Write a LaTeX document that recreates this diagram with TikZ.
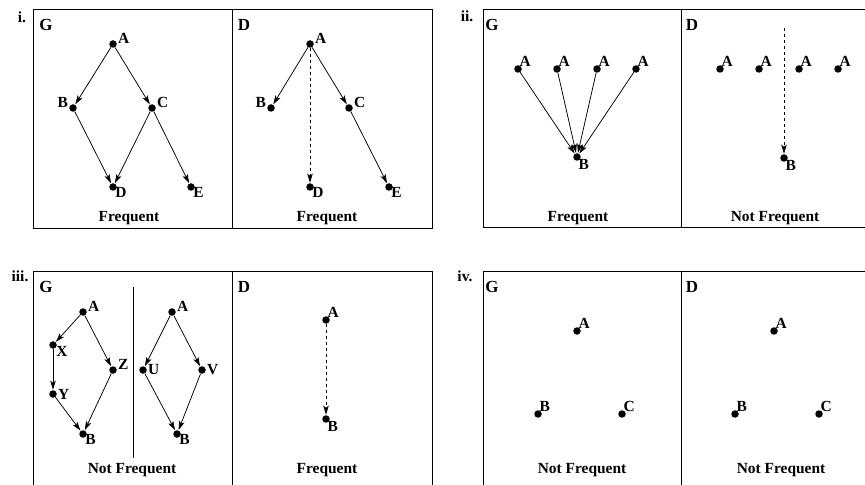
\documentclass[tikz,border=0pt]{standalone}
\usepackage{fontspec}
\setmainfont{Liberation Serif}
\usetikzlibrary{arrows.meta}
\begin{document}
\begin{tikzpicture}[x=1bp,y=-1bp,
  dotnode/.style={circle,fill=black,inner sep=0pt,minimum size=7.5bp},
  lbl/.style={font=\fontsize{15.5}{15.5}\selectfont\bfseries,inner sep=0pt},
  captxt/.style={font=\fontsize{15.5}{16}\selectfont\bfseries,inner sep=0pt},
  boxtitle/.style={font=\fontsize{17}{17}\selectfont\bfseries,inner sep=0pt},
  boxline/.style={line width=0.9bp},
  arr/.style={line width=0.75bp,-{Stealth[length=9bp,width=5.5bp,inset=2bp]},shorten >=0.3bp},
  darr/.style={arr,dash pattern=on 3.5bp off 2.5bp},
  every label/.style={lbl,label distance=1bp}]
\useasboundingbox (0,0) rectangle (865,485);
\clip (0,0) rectangle (865,485);

% ---------- panel i ----------
\node[lbl] (ni) at (22,17) {i.};
\draw[boxline] (33,9) rectangle (232,228);
\draw[boxline] (232,9) rectangle (432,228);
\node[boxtitle] (iG) at (46,25) {G};
\node[boxtitle] (iDl) at (244,25) {D};
\node[captxt] (iGc) at (129,218) {Frequent};
\node[captxt] (iDc) at (327,218) {Frequent};
\node[dotnode,label={[anchor=south west]0:A}] (iA) at (113,44) {};
\node[dotnode,label={[anchor=south east]180:B}] (iB) at (73,108) {};
\node[dotnode,label={[anchor=south west]0:C}] (iC) at (152,108) {};
\node[dotnode,label={[anchor=north west,xshift=-2bp,yshift=2bp]-30:D}] (iD) at (113,187) {};
\node[dotnode,label={[anchor=north west,xshift=-2bp,yshift=2bp]-30:E}] (iE) at (191,187) {};
\draw[arr] (iA) -- (iB);
\draw[arr] (iA) -- (iC);
\draw[arr] (iB) -- (iD);
\draw[arr] (iC) -- (iD);
\draw[arr] (iC) -- (iE);
\node[dotnode,label={[anchor=south west]0:A}] (jA) at (310,44) {};
\node[dotnode,label={[anchor=south east]180:B}] (jB) at (271,108) {};
\node[dotnode,label={[anchor=south west]0:C}] (jC) at (349,108) {};
\node[dotnode,label={[anchor=north west,xshift=-2bp,yshift=2bp]-30:D}] (jD) at (310,187) {};
\node[dotnode,label={[anchor=north west,xshift=-2bp,yshift=2bp]-30:E}] (jE) at (389,187) {};
\draw[arr] (jA) -- (jB);
\draw[arr] (jA) -- (jC);
\draw[arr] (jC) -- (jE);
\draw[darr] (jA) -- (jD);

% ---------- panel ii ----------
\node[lbl] (nii) at (467,16) {ii.};
\draw[boxline] (483,9) rectangle (681,227);
\draw[boxline] (681,9) rectangle (885,227);
\node[boxtitle] (iiG) at (492,25) {G};
\node[boxtitle] (iiDl) at (692,25) {D};
\node[captxt] (iiGc) at (578,218) {Frequent};
\node[captxt] (iiDc) at (775,218) {Not Frequent};
\node[dotnode,label={[anchor=south west,xshift=-2bp,yshift=-1bp]45:A}] (iiA1) at (518,69) {};
\node[dotnode,label={[anchor=south west,xshift=-2bp,yshift=-1bp]45:A}] (iiA2) at (557,69) {};
\node[dotnode,label={[anchor=south west,xshift=-2bp,yshift=-1bp]45:A}] (iiA3) at (597,69) {};
\node[dotnode,label={[anchor=south west,xshift=-2bp,yshift=-1bp]45:A}] (iiA4) at (636,69) {};
\node[dotnode,label={[anchor=north west,xshift=-2bp,yshift=1bp]-45:B}] (iiB) at (577,157) {};
\draw[arr] (iiA1) -- (iiB);
\draw[arr] (iiA2) -- (iiB);
\draw[arr] (iiA3) -- (iiB);
\draw[arr] (iiA4) -- (iiB);
\node[dotnode,label={[anchor=south west,xshift=-2bp,yshift=-1bp]45:A}] (jjA1) at (720,69) {};
\node[dotnode,label={[anchor=south west,xshift=-2bp,yshift=-1bp]45:A}] (jjA2) at (759,69) {};
\node[dotnode,label={[anchor=south west,xshift=-2bp,yshift=-1bp]45:A}] (jjA3) at (799,69) {};
\node[dotnode,label={[anchor=south west,xshift=-2bp,yshift=-1bp]45:A}] (jjA4) at (838,69) {};
\node[dotnode,label={[anchor=north west,xshift=-2bp,yshift=1bp]-45:B}] (jjB) at (784,158) {};
\coordinate (jjtop) at (784,28);
\draw[darr] (jjtop) -- (jjB);

% ---------- panel iii ----------
\node[lbl] (niii) at (20,276) {iii.};
\draw[boxline] (33,271) rectangle (232,495);
\draw[boxline] (232,271) rectangle (432,495);
\node[boxtitle] (iiiG) at (46,287) {G};
\node[boxtitle] (iiiDl) at (244,287) {D};
\node[captxt] (iiiGc) at (132,470) {Not Frequent};
\node[captxt] (iiiDc) at (327,470) {Frequent};
\coordinate (sepT) at (133,287);
\coordinate (sepB) at (133,458);
\draw[line width=0.9bp] (sepT) -- (sepB);
\node[dotnode,label={[anchor=south west]0:A}] (mA) at (83,312) {};
\node[dotnode,label={[anchor=north west,xshift=-1bp,yshift=1bp]-30:X}] (mX) at (53,345) {};
\node[dotnode,label={[anchor=west]0:Y}] (mY) at (53,394) {};
\node[dotnode,label={[anchor=south west]0:Z}] (mZ) at (113,370) {};
\node[dotnode,label={[anchor=north west,xshift=-2bp,yshift=2bp]-30:B}] (mB) at (83,434) {};
\draw[arr] (mA) -- (mX);
\draw[arr] (mX) -- (mY);
\draw[arr] (mY) -- (mB);
\draw[arr] (mA) -- (mZ);
\draw[arr] (mZ) -- (mB);
\node[dotnode,label={[anchor=south west]0:A}] (nA) at (172,312) {};
\node[dotnode,label={[anchor=west]0:U}] (nU) at (143,370) {};
\node[dotnode,label={[anchor=west]0:V}] (nV) at (202,370) {};
\node[dotnode,label={[anchor=north west,xshift=-2bp,yshift=2bp]-30:B}] (nB) at (177,434) {};
\draw[arr] (nA) -- (nU);
\draw[arr] (nA) -- (nV);
\draw[arr] (nU) -- (nB);
\draw[arr] (nV) -- (nB);
\node[dotnode,label={[anchor=south west,xshift=-2bp,yshift=-1bp]45:A}] (oA) at (326,320) {};
\node[dotnode,label={[anchor=north west,xshift=-2bp,yshift=1bp]-45:B}] (oB) at (326,419) {};
\draw[darr] (oA) -- (oB);

% ---------- panel iv ----------
\node[lbl] (niv) at (465,276) {iv.};
\draw[boxline] (483,271) rectangle (681,495);
\draw[boxline] (681,271) rectangle (885,495);
\node[boxtitle] (ivG) at (492,287) {G};
\node[boxtitle] (ivDl) at (692,287) {D};
\node[captxt] (ivGc) at (582,470) {Not Frequent};
\node[captxt] (ivDc) at (781,470) {Not Frequent};
\node[dotnode,label={[anchor=south west,xshift=-2bp,yshift=-1bp]45:A}] (pA) at (577,331) {};
\node[dotnode,label={[anchor=south west,xshift=-2bp,yshift=-1bp]45:B}] (pB) at (538,414) {};
\node[dotnode,label={[anchor=south west,xshift=-2bp,yshift=-1bp]45:C}] (pC) at (622,414) {};
\node[dotnode,label={[anchor=south west,xshift=-2bp,yshift=-1bp]45:A}] (qA) at (774,331) {};
\node[dotnode,label={[anchor=south west,xshift=-2bp,yshift=-1bp]45:B}] (qB) at (735,414) {};
\node[dotnode,label={[anchor=south west,xshift=-2bp,yshift=-1bp]45:C}] (qC) at (819,414) {};
\end{tikzpicture}
\end{document}
